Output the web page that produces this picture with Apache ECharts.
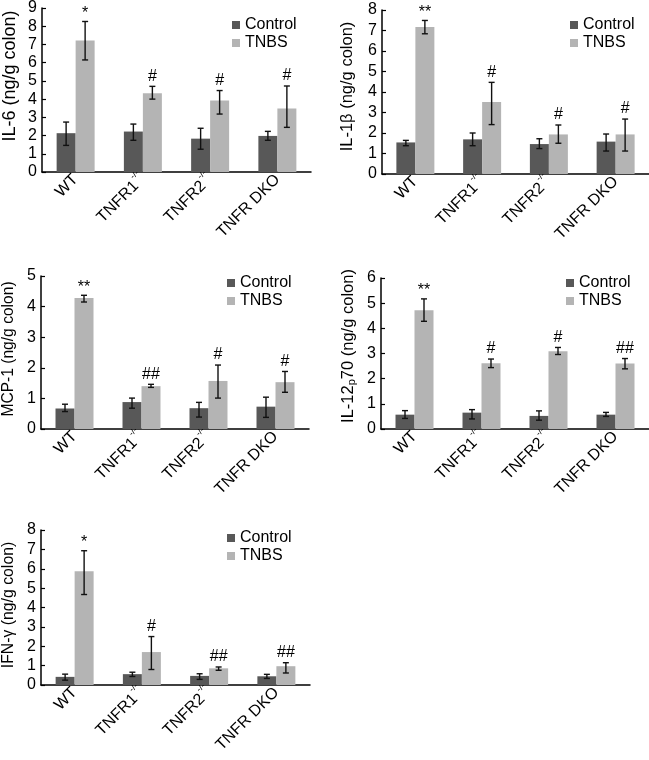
<!DOCTYPE html>
<html>
<head>
<meta charset="utf-8">
<script src="https://cdn.jsdelivr.net/npm/echarts@6/dist/echarts.min.js"></script>
<style>html,body{margin:0;padding:0;background:#fff;}#c{width:649px;height:760px;}</style>
</head>
<body>
<div id="c"></div>
<script>
const categories = ['WT', 'TNFR1-/-', 'TNFR2-/-', 'TNFR DKO'];
const seriesNames = ['Control', 'TNBS'];

const il6Control = [2.13, 2.22, 1.83, 1.98];
const il6ControlErr = [[1.46, 2.74], [1.74, 2.63], [1.25, 2.40], [1.74, 2.23]];
const il6Tnbs = [7.22, 4.32, 3.93, 3.48];
const il6TnbsErr = [[6.15, 8.26], [4.00, 4.70], [3.18, 4.47], [2.45, 4.72]];
const il6Marks = ['*', '#', '#', '#'];

const il1bControl = [1.54, 1.69, 1.46, 1.58];
const il1bControlErr = [[1.38, 1.64], [1.38, 2.00], [1.24, 1.72], [1.12, 1.95]];
const il1bTnbs = [7.17, 3.51, 1.93, 1.93];
const il1bTnbsErr = [[6.84, 7.49], [2.41, 4.47], [1.50, 2.39], [1.12, 2.68]];
const il1bMarks = ['**', '#', '#', '#'];

const mcp1Control = [0.67, 0.88, 0.68, 0.73];
const mcp1ControlErr = [[0.57, 0.81], [0.68, 1.01], [0.39, 0.87], [0.38, 1.04]];
const mcp1Tnbs = [4.28, 1.40, 1.57, 1.53];
const mcp1TnbsErr = [[4.15, 4.37], [1.36, 1.46], [1.01, 2.09], [1.20, 1.88]];
const mcp1Marks = ['**', '##', '#', '#'];

const il12Control = [0.57, 0.65, 0.52, 0.57];
const il12ControlErr = [[0.42, 0.73], [0.40, 0.77], [0.35, 0.72], [0.50, 0.66]];
const il12Tnbs = [4.72, 2.61, 3.09, 2.60];
const il12TnbsErr = [[4.28, 5.17], [2.44, 2.78], [2.96, 3.24], [2.39, 2.80]];
const il12Marks = ['**', '#', '#', '##'];

const ifngControl = [0.42, 0.56, 0.47, 0.45];
const ifngControlErr = [[0.25, 0.56], [0.44, 0.66], [0.29, 0.58], [0.34, 0.55]];
const ifngTnbs = [5.87, 1.70, 0.86, 0.97];
const ifngTnbsErr = [[4.67, 6.93], [0.80, 2.50], [0.76, 0.93], [0.62, 1.15]];
const ifngMarks = ['*', '#', '##', '##'];

const yTickLabels = ['0','1','2','3','4','5','6','7','8','9'];

const FONT = 'Liberation Sans, Arial, sans-serif';
const C_DARK = '#585858';
const C_LIGHT = '#b4b4b4';
const BAR_W = 19;

const panels = [
  { name: 'IL-6 (ng/g colon)', nameSize: 18, namePad: 28, max: 9,
    control: il6Control, controlErr: il6ControlErr, tnbs: il6Tnbs, tnbsErr: il6TnbsErr, marks: il6Marks,
    grid: { left: 41, top: 7, width: 270, height: 165 }, nameGap: 23, legend: { left: 227, top: 12 } },
  { name: 'IL-1β (ng/g colon)', nameSize: 16.5, namePad: 11, max: 8,
    control: il1bControl, controlErr: il1bControlErr, tnbs: il1bTnbs, tnbsErr: il1bTnbsErr, marks: il1bMarks,
    grid: { left: 382, top: 10, width: 268, height: 164 }, nameGap: 26, legend: { left: 565, top: 12 } },
  { name: 'MCP-1 (ng/g colon)', nameSize: 15.6, namePad: 7, max: 5,
    control: mcp1Control, controlErr: mcp1ControlErr, tnbs: mcp1Tnbs, tnbsErr: mcp1TnbsErr, marks: mcp1Marks,
    grid: { left: 41, top: 276, width: 268, height: 153 }, nameGap: 24, legend: { left: 222, top: 270 } },
  { name: 'IL-12{sub|p}70 (ng/g colon)', nameSize: 16.5, namePad: 15, max: 6,
    control: il12Control, controlErr: il12ControlErr, tnbs: il12Tnbs, tnbsErr: il12TnbsErr, marks: il12Marks,
    grid: { left: 381, top: 278, width: 269, height: 151 }, nameGap: 24, legend: { left: 561, top: 270 } },
  { name: 'IFN-γ (ng/g colon)', nameSize: 15.8, namePad: 5, max: 8,
    control: ifngControl, controlErr: ifngControlErr, tnbs: ifngTnbs, tnbsErr: ifngTnbsErr, marks: ifngMarks,
    grid: { left: 41, top: 530, width: 269, height: 155 }, nameGap: 24, legend: { left: 222, top: 525 } }
];

function catLabel(v) {
  return v.endsWith('-/-') ? '{m|' + v.slice(0, -3) + '}{sup|-/-}' : '{m|' + v + '}';
}

function errSeries(p, i, errs, marks, side) {
  return {
    type: 'custom', xAxisIndex: i, yAxisIndex: i, z: 5, silent: true,
    data: errs.map((e, k) => [k, e[0], e[1]]),
    renderItem: function (params, api) {
      const lo = api.coord([api.value(0), api.value(1)]);
      const hi = api.coord([api.value(0), api.value(2)]);
      const x = lo[0] + side * BAR_W / 2;
      const cap = 3;
      const st = { stroke: '#111', lineWidth: 1.4 };
      const children = [
        { type: 'line', shape: { x1: x, y1: lo[1], x2: x, y2: hi[1] }, style: st },
        { type: 'line', shape: { x1: x - cap, y1: lo[1], x2: x + cap, y2: lo[1] }, style: st },
        { type: 'line', shape: { x1: x - cap, y1: hi[1], x2: x + cap, y2: hi[1] }, style: st }
      ];
      const m = marks ? marks[params.dataIndex] : '';
      if (m) {
        children.push({ type: 'text', style: { text: m, x: x, y: hi[1] - (m[0] === '*' ? 0 : 2), align: 'center', verticalAlign: 'bottom',
          font: (m[0] === '*' ? '16px ' : '16px ') + FONT, fill: '#000' } });
      }
      return { type: 'group', children: children };
    }
  };
}

const option = { animation: false, backgroundColor: '#fff', textStyle: { fontFamily: FONT },
  grid: [], xAxis: [], yAxis: [], series: [], legend: [] };

panels.forEach((p, i) => {
  option.grid.push(Object.assign({ containLabel: false }, p.grid));
  option.xAxis.push({
    type: 'category', gridIndex: i, data: categories,
    axisLine: { lineStyle: { color: '#000', width: 1.5 } }, axisTick: { show: false },
    axisLabel: { rotate: 45, margin: 5, interval: 0, color: '#000', fontSize: 16, fontFamily: FONT,
      formatter: catLabel,
      rich: {
        m: { fontSize: 16, color: '#000', fontFamily: FONT, verticalAlign: 'bottom', lineHeight: 16 },
        sup: { fontSize: 9, lineHeight: 9, verticalAlign: 'bottom', color: '#000', fontFamily: FONT, padding: [0, 0, 11, 1] }
      } }
  });
  option.yAxis.push({
    type: 'value', gridIndex: i, min: 0, max: p.max, interval: 1,
    name: p.name, nameLocation: 'middle', nameGap: p.nameGap,
    nameTextStyle: { color: '#000', fontSize: p.nameSize, fontFamily: FONT, padding: [0, 0, 0, p.namePad],
      rich: { sub: { fontSize: 11, verticalAlign: 'bottom', fontFamily: FONT, color: '#000' } } },
    splitLine: { show: false },
    axisLine: { show: true, lineStyle: { color: '#000', width: 1.5 } },
    axisTick: { show: true, inside: true, length: 4, lineStyle: { color: '#000', width: 1.2 } },
    axisLabel: { color: '#000', fontSize: 16, margin: 5, fontFamily: FONT, formatter: v => yTickLabels[v] }
  });
  option.series.push({ name: seriesNames[0], type: 'bar', xAxisIndex: i, yAxisIndex: i, data: p.control,
    barWidth: BAR_W, barGap: '0%', itemStyle: { color: C_DARK } });
  option.series.push({ name: seriesNames[1], type: 'bar', xAxisIndex: i, yAxisIndex: i, data: p.tnbs,
    barWidth: BAR_W, barGap: '0%', itemStyle: { color: C_LIGHT } });
  option.series.push(errSeries(p, i, p.controlErr, null, -1));
  option.series.push(errSeries(p, i, p.tnbsErr, p.marks, 1));
  option.legend.push({ data: seriesNames, orient: 'vertical', left: p.legend.left, top: p.legend.top,
    icon: 'rect', itemWidth: 8, itemHeight: 8, itemGap: 2,
    textStyle: { fontSize: 16, color: '#000', fontFamily: FONT, padding: [0, 0, 0, 0] } });
});

const chart = echarts.init(document.getElementById('c'), null, { renderer: 'canvas' });
chart.setOption(option);
</script>
</body>
</html>
